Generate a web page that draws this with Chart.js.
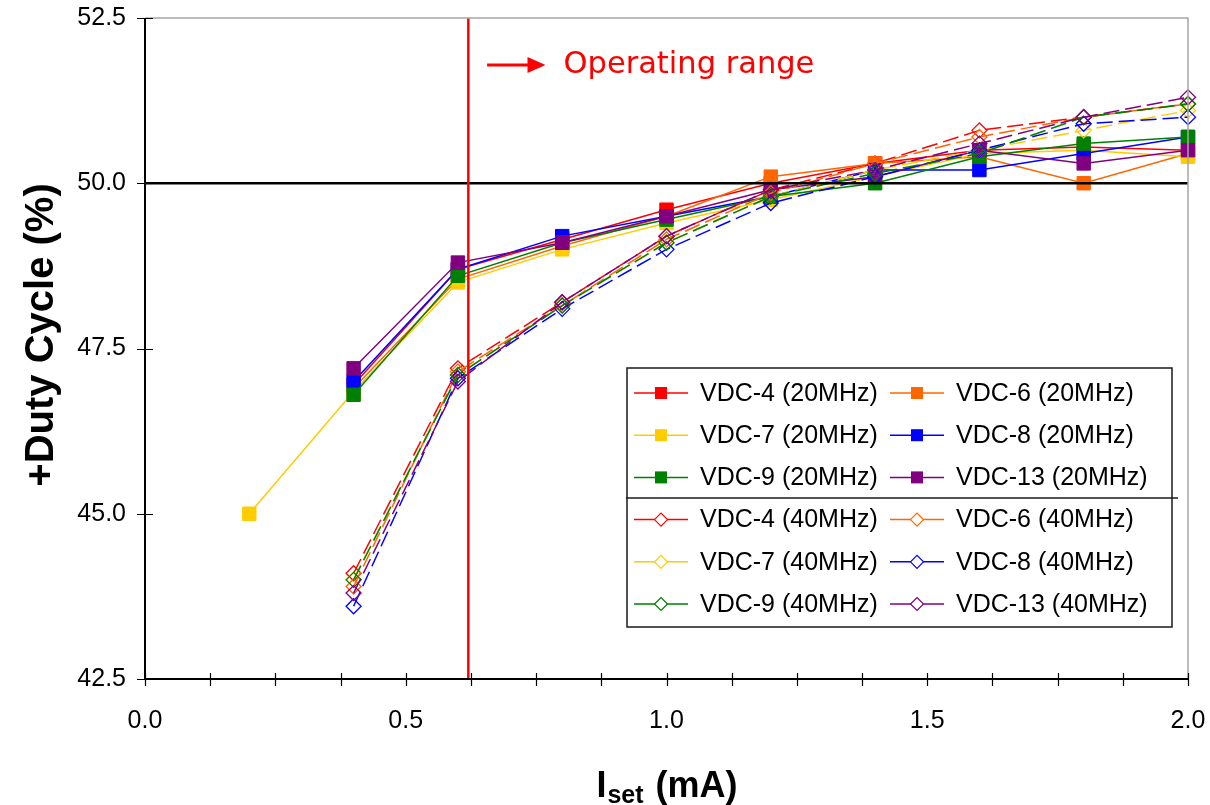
<!DOCTYPE html>
<html>
<head>
<meta charset="utf-8">
<script src="https://cdn.jsdelivr.net/npm/chart.js@4.4.1/dist/chart.umd.min.js"></script>
<style>
  html, body { margin: 0; padding: 0; background: #fff; }
  #wrap { width: 1210px; height: 805px; }
</style>
</head>
<body>
<div id="wrap"><canvas id="dutyChart" width="1210" height="805"></canvas></div>
<script>
// I_set values (mA)
const iset20 = [0.2, 0.4, 0.6, 0.8, 1.0, 1.2, 1.4, 1.6, 1.8, 2.0];
const iset40 = [0.4, 0.6, 0.8, 1.0, 1.2, 1.4, 1.6, 1.8, 2.0];

// +Duty cycle (%) at 20MHz
const vdc4_20  = [null, 46.95, 48.7, 49.15, 49.6, 50.0, 50.3, 50.5, 50.55, 50.5];
const vdc6_20  = [null, 46.9, 48.55, 49.05, 49.5, 50.1, 50.3, 50.4, 50.0, 50.45];
const vdc7_20  = [45.0, 46.85, 48.5, 49.0, 49.4, 49.75, 50.1, 50.45, 50.5, 50.4];
const vdc8_20  = [null, 47.0, 48.7, 49.2, 49.5, 49.8, 50.2, 50.2, 50.45, 50.7];
const vdc9_20  = [null, 46.8, 48.6, 49.1, 49.45, 49.8, 50.0, 50.4, 50.6, 50.7];
const vdc13_20 = [null, 47.2, 48.8, 49.1, 49.5, 49.9, 50.1, 50.5, 50.3, 50.5];

// +Duty cycle (%) at 40MHz
const vdc4_40  = [44.1, 47.2, 48.2, 49.2, 49.9, 50.3, 50.8, 51.0, 51.2];
const vdc6_40  = [43.9, 47.15, 48.15, 49.15, 49.85, 50.3, 50.7, 51.0, 51.2];
const vdc7_40  = [44.0, 47.1, 48.15, 49.1, 49.8, 50.2, 50.5, 50.8, 51.1];
const vdc8_40  = [43.6, 47.05, 48.1, 49.0, 49.7, 50.1, 50.5, 50.9, 51.0];
const vdc9_40  = [44.0, 47.1, 48.15, 49.1, 49.8, 50.15, 50.45, 51.0, 51.2];
const vdc13_40 = [43.8, 47.0, 48.2, 49.2, 49.9, 50.2, 50.6, 51.0, 51.3];

const labels20 = ['VDC-4 (20MHz)', 'VDC-6 (20MHz)', 'VDC-7 (20MHz)', 'VDC-8 (20MHz)', 'VDC-9 (20MHz)', 'VDC-13 (20MHz)'];
const labels40 = ['VDC-4 (40MHz)', 'VDC-6 (40MHz)', 'VDC-7 (40MHz)', 'VDC-8 (40MHz)', 'VDC-9 (40MHz)', 'VDC-13 (40MHz)'];
const colors = ['#FF0000', '#FF6600', '#FFCC00', '#0000FF', '#008000', '#800080'];

// axis ranges / ticks
const xMin = 0, xMax = 2, xStep = 0.125, xLabelEvery = 0.5;
const yMin = 42.5, yMax = 52.5, yStep = 2.5;

// annotations
const refDuty = 50.0;          // black reference line
const rangeStart = 0.62;       // red "operating range" marker
const arrowFrom = 0.656, arrowTo = 0.768, arrowY = 51.79;
const rangeText = 'Operating range';

function toPoints(xs, ys) {
  const pts = [];
  xs.forEach((x, i) => { if (ys[i] !== null) pts.push({ x: x, y: ys[i] }); });
  return pts;
}

const series20 = [vdc4_20, vdc6_20, vdc7_20, vdc8_20, vdc9_20, vdc13_20];
const series40 = [vdc4_40, vdc6_40, vdc7_40, vdc8_40, vdc9_40, vdc13_40];

const datasets = [];
series20.forEach((ys, i) => {
  datasets.push({
    label: labels20[i],
    data: toPoints(iset20, ys),
    borderColor: colors[i],
    backgroundColor: colors[i],
    borderWidth: 1.5,
    pointStyle: 'rect',
    pointRadius: 9.5,
    pointBorderWidth: 1,
    pointBackgroundColor: colors[i],
    pointBorderColor: colors[i],
    tension: 0,
    clip: false,
    order: 100 - datasets.length,
    group: 0
  });
});
series40.forEach((ys, i) => {
  datasets.push({
    label: labels40[i],
    data: toPoints(iset40, ys),
    borderColor: colors[i],
    backgroundColor: 'rgba(0,0,0,0)',
    borderWidth: 1.5,
    borderDash: [16, 6],
    pointStyle: 'rectRot',
    pointRadius: 7.5,
    pointBorderWidth: 1.3,
    pointBackgroundColor: 'rgba(0,0,0,0)',
    pointBorderColor: colors[i],
    tension: 0,
    clip: false,
    order: 100 - datasets.length,
    group: 1
  });
});

// reference lines + operating-range arrow, drawn over the data
const annotations = {
  id: 'annotations',
  afterDatasetsDraw(chart) {
    const { ctx, chartArea: a, scales: { x, y } } = chart;
    ctx.save();
    // 50% line
    const y50 = y.getPixelForValue(refDuty);
    ctx.strokeStyle = '#000';
    ctx.lineWidth = 2.5;
    ctx.beginPath();
    ctx.moveTo(a.left, y50);
    ctx.lineTo(a.right, y50);
    ctx.stroke();
    // operating range start
    const xr = x.getPixelForValue(rangeStart);
    ctx.strokeStyle = '#FF0000';
    ctx.lineWidth = 2.5;
    ctx.beginPath();
    ctx.moveTo(xr, a.top);
    ctx.lineTo(xr, a.bottom);
    ctx.stroke();
    // arrow
    const ay = y.getPixelForValue(arrowY);
    const ax0 = x.getPixelForValue(arrowFrom);
    const ax1 = x.getPixelForValue(arrowTo);
    ctx.lineWidth = 3;
    ctx.beginPath();
    ctx.moveTo(ax0, ay);
    ctx.lineTo(ax1 - 14, ay);
    ctx.stroke();
    ctx.fillStyle = '#FF0000';
    ctx.beginPath();
    ctx.moveTo(ax1, ay);
    ctx.lineTo(ax1 - 18, ay - 8);
    ctx.lineTo(ax1 - 18, ay + 8);
    ctx.closePath();
    ctx.fill();
    // label
    ctx.font = '30.5px "DejaVu Sans"';
    ctx.textBaseline = 'middle';
    ctx.textAlign = 'left';
    ctx.fillText(rangeText, ax1 + 18, ay);
    ctx.restore();
  }
};

// axis lines, crossing tick marks, titles and the boxed legend
const frame = {
  id: 'frame',
  afterDraw(chart) {
    const { ctx, chartArea: a, scales: { x, y } } = chart;
    ctx.save();
    // plot-area border (light grey top/right)
    ctx.strokeStyle = '#A6A6A6';
    ctx.lineWidth = 1.5;
    ctx.beginPath();
    ctx.moveTo(a.left, a.top);
    ctx.lineTo(a.right, a.top);
    ctx.lineTo(a.right, a.bottom);
    ctx.stroke();
    // axes
    ctx.strokeStyle = '#000';
    ctx.lineWidth = 2;
    ctx.beginPath();
    ctx.moveTo(a.left, a.top);
    ctx.lineTo(a.left, a.bottom);
    ctx.lineTo(a.right, a.bottom);
    ctx.stroke();
    ctx.lineWidth = 1.2;
    ctx.beginPath();
    x.ticks.forEach(t => {
      const px = Math.round(x.getPixelForValue(t.value)) + 0.5;
      ctx.moveTo(px, a.bottom - 6);
      ctx.lineTo(px, a.bottom + 7);
    });
    y.ticks.forEach(t => {
      const py = Math.round(y.getPixelForValue(t.value)) + 0.5;
      ctx.moveTo(a.left - 8, py);
      ctx.lineTo(a.left + 8, py);
    });
    ctx.stroke();

    // y title
    ctx.fillStyle = '#000';
    ctx.save();
    ctx.translate(42, 335);
    ctx.rotate(-Math.PI / 2);
    ctx.font = 'bold 40px "Liberation Sans"';
    ctx.textAlign = 'center';
    ctx.textBaseline = 'middle';
    ctx.fillText('+Duty Cycle (%)', 0, 0);
    ctx.restore();

    // x title: I_set (mA)
    const big = 'bold 36px "Liberation Sans"';
    const small = 'bold 25px "Liberation Sans"';
    ctx.textBaseline = 'alphabetic';
    ctx.textAlign = 'left';
    ctx.font = big;
    const wI = ctx.measureText('I').width;
    const wRest = ctx.measureText(' (mA)').width;
    ctx.font = small;
    const wSub = ctx.measureText('set').width + 2;
    let tx = (a.left + a.right) / 2 - (wI + wSub + wRest) / 2;
    const base = 797;
    ctx.font = big;
    ctx.fillText('I', tx, base);
    tx += wI + 1;
    ctx.font = small;
    ctx.fillText('set', tx, base + 6);
    tx += wSub;
    ctx.font = big;
    ctx.fillText(' (mA)', tx, base);

    // legend
    const box = { left: 627, top: 368, right: 1172, bottom: 627 };
    ctx.fillStyle = '#fff';
    ctx.fillRect(box.left, box.top, box.right - box.left, box.bottom - box.top);
    ctx.strokeStyle = '#1a1a1a';
    ctx.lineWidth = 1.5;
    ctx.strokeRect(box.left, box.top, box.right - box.left, box.bottom - box.top);
    ctx.beginPath();
    ctx.moveTo(box.left - 1, 498);
    ctx.lineTo(box.right + 6, 498);
    ctx.stroke();
    ctx.font = '25px "Liberation Sans"';
    ctx.textBaseline = 'middle';
    chart.data.datasets.forEach((ds, i) => {
      const grp = Math.floor(i / 6), j = i % 6;
      const row = grp * 3 + Math.floor(j / 2), col = j % 2;
      const ry = box.top + 25 + row * 42.2;
      const lx = box.left + 7 + col * 256;
      ctx.strokeStyle = ds.borderColor;
      ctx.lineWidth = 1.5;
      ctx.beginPath();
      ctx.moveTo(lx, ry);
      ctx.lineTo(lx + 54, ry);
      ctx.stroke();
      const mx = lx + 27;
      if (ds.group === 0) {
        ctx.fillStyle = ds.borderColor;
        ctx.fillRect(mx - 6, ry - 6, 12, 12);
      } else {
        ctx.fillStyle = '#fff';
        ctx.beginPath();
        ctx.moveTo(mx - 6.5, ry);
        ctx.lineTo(mx, ry - 6.5);
        ctx.lineTo(mx + 6.5, ry);
        ctx.lineTo(mx, ry + 6.5);
        ctx.closePath();
        ctx.fill();
        ctx.lineWidth = 1.2;
        ctx.stroke();
      }
      ctx.fillStyle = '#000';
      ctx.fillText(ds.label, lx + 66, ry + 1);
    });
    ctx.restore();
  }
};

Chart.defaults.font.family = '"Liberation Sans", Arial, sans-serif';
Chart.defaults.color = '#000';

new Chart(document.getElementById('dutyChart'), {
  type: 'line',
  data: { datasets: datasets },
  options: {
    responsive: false,
    animation: false,
    devicePixelRatio: 1,
    layout: { padding: { left: 0, top: 18, right: 22, bottom: 0 } },
    plugins: { legend: { display: false }, tooltip: { enabled: false } },
    scales: {
      x: {
        type: 'linear',
        min: xMin,
        max: xMax,
        grid: { display: false },
        border: { display: false },
        ticks: {
          stepSize: xStep,
          autoSkip: false,
          maxRotation: 0,
          padding: 19,
          font: { size: 25 },
          callback: v => (Math.abs(v / xLabelEvery - Math.round(v / xLabelEvery)) < 1e-6 ? v.toFixed(1) : '')
        },
        afterFit: s => { s.height = 126; s.paddingLeft = 0; s.paddingRight = 0; }
      },
      y: {
        min: yMin,
        max: yMax,
        grid: { display: false },
        border: { display: false },
        ticks: {
          stepSize: yStep,
          padding: 11,
          font: { size: 25 },
          callback: v => v.toFixed(1)
        },
        afterFit: s => { s.width = 145; s.paddingTop = 0; s.paddingBottom = 0; }
      }
    }
  },
  plugins: [annotations, frame]
});
</script>
</body>
</html>
